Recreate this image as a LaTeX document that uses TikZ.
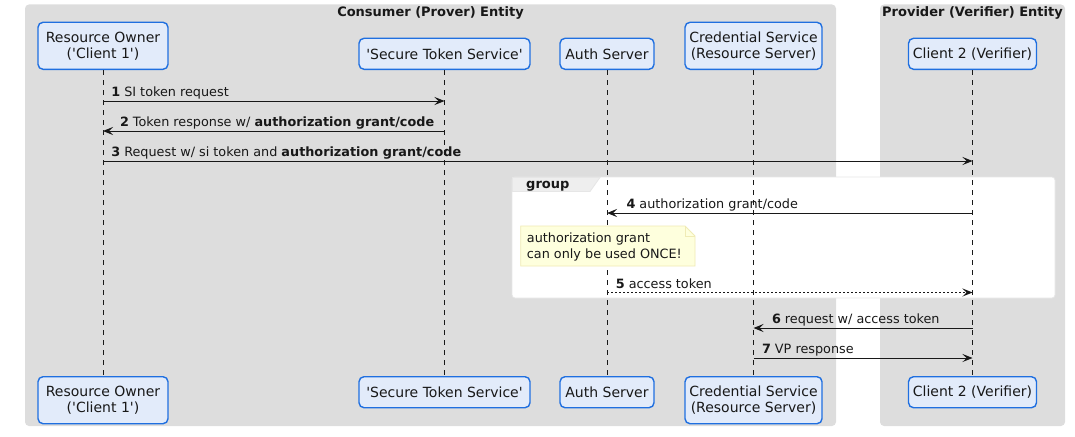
\documentclass[tikz,border=0pt]{standalone}
\usepackage{fontspec}
\setmainfont{DejaVu Sans}[Ligatures=TeXOff]
\usetikzlibrary{arrows.meta,calc}
\definecolor{pblue}{HTML}{1F6FE0}
\definecolor{pfill}{HTML}{E2EBFA}
\definecolor{boxgray}{HTML}{DDDDDD}
\definecolor{notefill}{HTML}{FEFFDD}
\definecolor{noteline}{HTML}{F0EBB5}
\definecolor{grpline}{HTML}{E6E6E6}
\definecolor{tabfill}{HTML}{EEEEEE}
\definecolor{ink}{HTML}{181818}
\begin{document}
\begin{tikzpicture}[x=1pt,y=-1pt,
  part/.style={draw=pblue, fill=pfill, rounded corners=5pt, line width=1.4pt,
    font=\fontsize{14}{16}\selectfont, align=center, inner xsep=3pt, inner ysep=3pt,
    minimum height=31pt, text=ink},
  twoline/.style={minimum height=47pt},
  life/.style={draw=ink, line width=1pt, dash pattern=on 5pt off 5pt},
  msg/.style={draw=ink, line width=1pt, -{Stealth[length=10pt,width=8pt,inset=4pt]}},
  dotmsg/.style={msg, dash pattern=on 2pt off 2pt},
  lbl/.style={font=\fontsize{12.8}{15}\selectfont, inner sep=0pt, text=ink},
  ttl/.style={font=\bfseries\fontsize{13}{15}\selectfont, inner sep=0pt, text=ink}
]
\useasboundingbox (0,0) rectangle (1075,436);
% entity boxes
\fill[boxgray, rounded corners=4pt] (25,4.5) rectangle (836,426);
\fill[boxgray, rounded corners=4pt] (880,4.5) rectangle (1065,426);
\node[ttl, anchor=base] (tcons) at (430.5,16.5) {Consumer (Prover) Entity};
\node[ttl, anchor=base] (tprov) at (972.5,16.5) {Provider (Verifier) Entity};
% group box
\draw[grpline, fill=white, rounded corners=3pt, line width=0.8pt] (512,177) rectangle (1055,298);
\draw[grpline, fill=tabfill, line width=0.8pt] (512.4,177.4) -- (600,177.4) -- (590,191.5) -- (512.4,191.5) -- cycle;
\node[ttl, anchor=base west] (glabel) at (526,188) {group};
% participants top
\node[part, twoline, minimum width=130pt, anchor=south] (ro)  at (103,70) {Resource Owner\\('Client 1')};
\node[part, minimum width=171pt, anchor=south] (sts) at (444.5,70) {'Secure Token Service'};
\node[part, minimum width=94pt, anchor=south] (auth) at (607,70) {Auth Server};
\node[part, twoline, minimum width=137pt, anchor=south] (cred) at (753.5,70) {Credential Service\\(Resource Server)};
\node[part, minimum width=128pt, anchor=south] (c2) at (972.5,70) {Client 2 (Verifier)};
% participants bottom
\node[part, twoline, minimum width=130pt, anchor=north] (rob)  at (103,376) {Resource Owner\\('Client 1')};
\node[part, minimum width=171pt, anchor=north] (stsb) at (444.5,376) {'Secure Token Service'};
\node[part, minimum width=94pt, anchor=north] (authb) at (607,376) {Auth Server};
\node[part, twoline, minimum width=137pt, anchor=north] (credb) at (753.5,376) {Credential Service\\(Resource Server)};
\node[part, minimum width=128pt, anchor=north] (c2b) at (972.5,376) {Client 2 (Verifier)};
% lifelines
\draw[life] (ro.south) -- (rob.north);
\draw[life] (sts.south) -- (stsb.north);
\draw[life] (auth.south) -- (authb.north);
\draw[life] (cred.south) -- (credb.north);
\draw[life] (c2.south) -- (c2b.north);
% note
\draw[noteline, fill=notefill, line width=0.8pt] (520.7,226) -- (685,226) -- (695,236) -- (695,266) -- (520.7,266) -- cycle;
\draw[noteline, line width=0.8pt] (685,226) -- (685,236) -- (695,236);
\node[font=\fontsize{12.8}{16}\selectfont, align=left, anchor=north west, inner sep=0pt, text=ink] (note) at (526.7,232.6) {authorization grant\\can only be used ONCE!};
% message rows
\coordinate (y1) at (0,101);
\coordinate (y2) at (0,131);
\coordinate (y3) at (0,161);
\coordinate (y4) at (0,213);
\coordinate (y5) at (0,292.5);
\coordinate (y6) at (0,328);
\coordinate (y7) at (0,358);
\draw[msg] (ro |- y1) -- (sts |- y1) node[lbl, pos=0, anchor=base west, xshift=7.8pt, yshift=4.3pt] {\textbf{1} SI token request};
\draw[msg] (sts |- y2) -- (ro |- y2) node[lbl, pos=1, anchor=base west, xshift=16.5pt, yshift=4.3pt] {\textbf{2} Token response w/ \textbf{authorization grant/code}};
\draw[msg] (ro |- y3) -- (c2 |- y3) node[lbl, pos=0, anchor=base west, xshift=7.8pt, yshift=4.3pt] {\textbf{3} Request w/ si token and \textbf{authorization grant/code}};
\draw[msg] (c2 |- y4) -- (auth |- y4) node[lbl, pos=1, anchor=base west, xshift=19pt, yshift=4.5pt] {\textbf{4} authorization grant/code};
\draw[dotmsg] (auth |- y5) -- (c2 |- y5) node[lbl, pos=0, anchor=base west, xshift=8.3pt, yshift=4.3pt] {\textbf{5} access token};
\draw[msg] (c2 |- y6) -- (cred |- y6) node[lbl, pos=1, anchor=base west, xshift=18pt, yshift=4.3pt] {\textbf{6} request w/ access token};
\draw[msg] (cred |- y7) -- (c2 |- y7) node[lbl, pos=0, anchor=base west, xshift=8pt, yshift=4.3pt] {\textbf{7} VP response};
\end{tikzpicture}
\end{document}
